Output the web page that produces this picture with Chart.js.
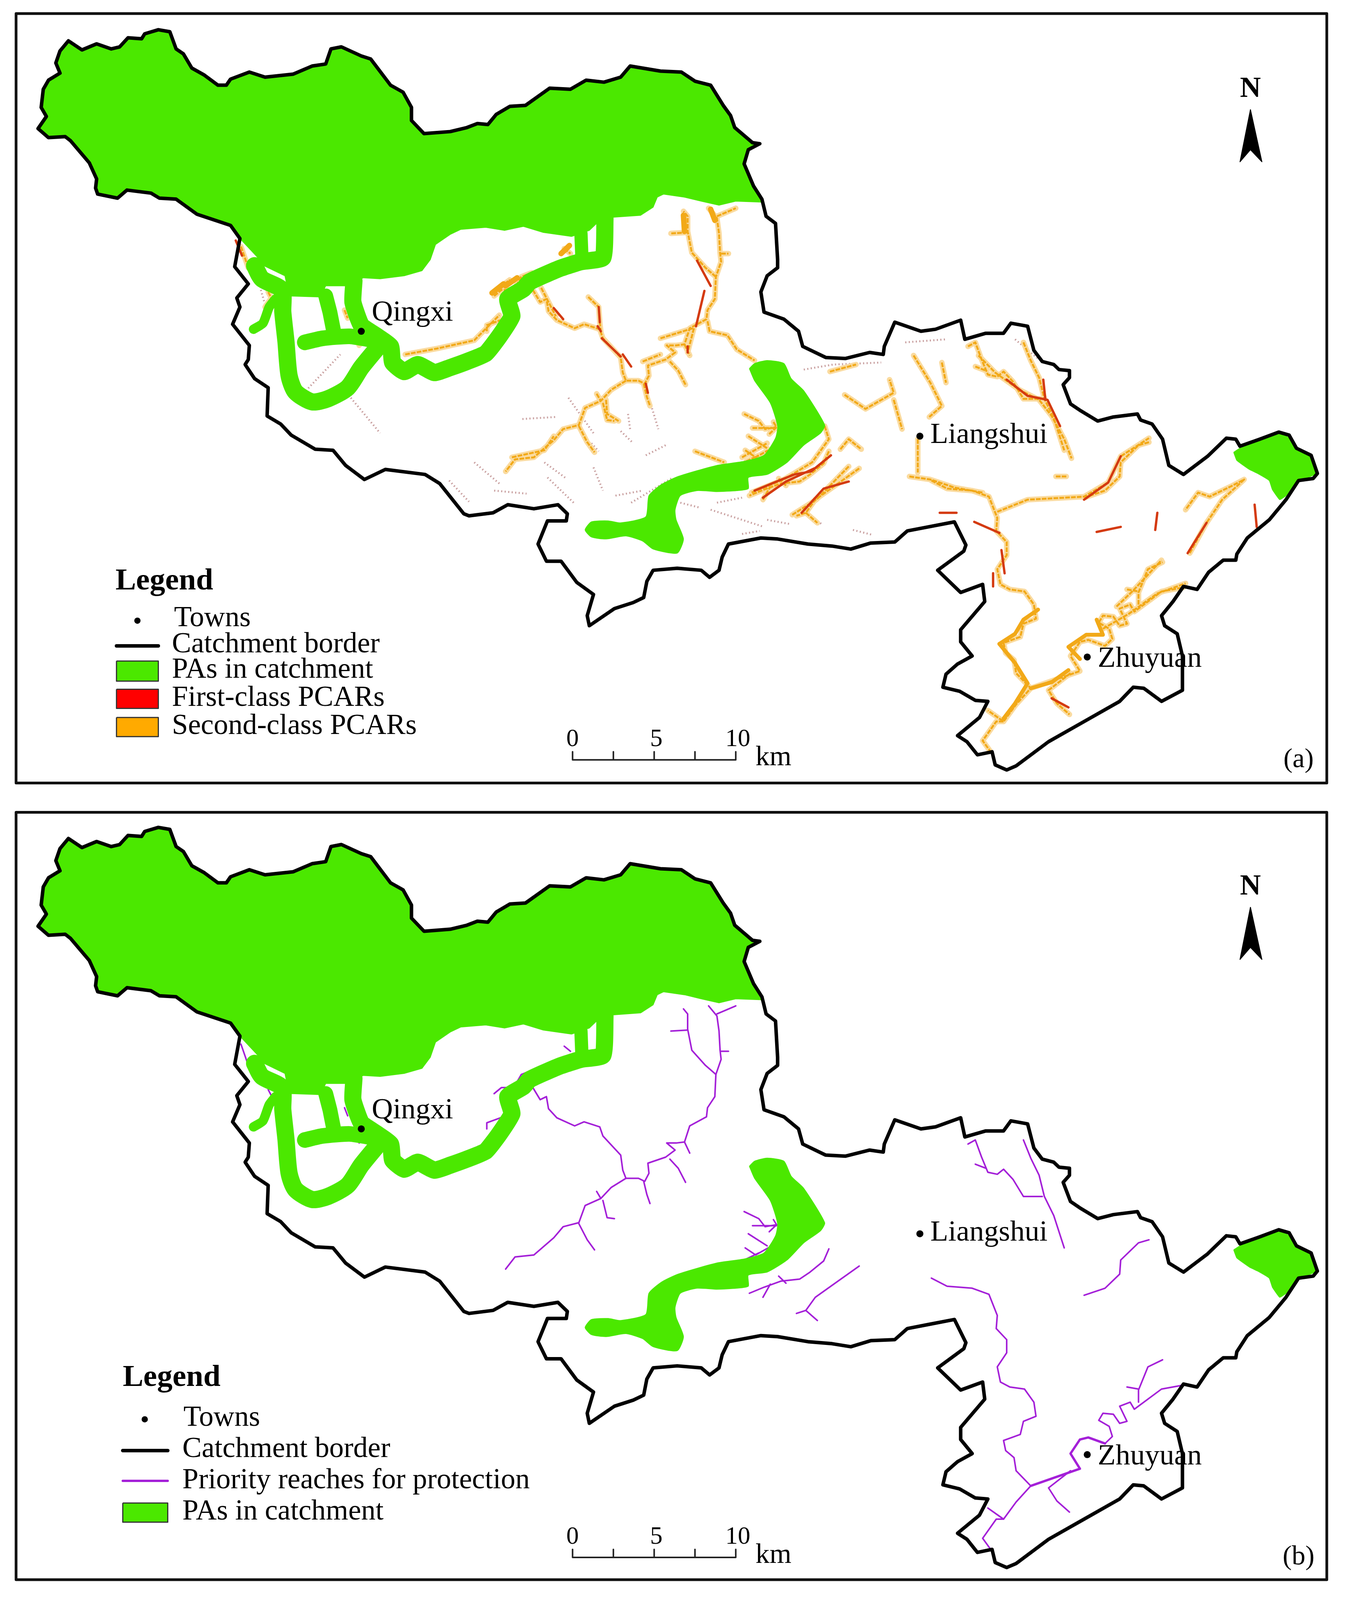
<!DOCTYPE html>
<html><head><meta charset="utf-8">
<script src="https://cdn.jsdelivr.net/npm/chart.js@4"></script>
<style>html,body{margin:0;padding:0;background:#fff;overflow:hidden}canvas{position:absolute;left:0}</style>
</head><body>
<canvas id="a"></canvas>
<canvas id="b"></canvas>
<script>
const borderNorth=[[33,124],[41,112],[36,103],[38,85],[43,76],[54,69],[50,59],[54,47],[62,37],[75,46],[89,40],[103,45],[111,43],[119,34],[132,35],[135,30],[148,26],[159,28],[165,45],[172,50],[180,64],[192,71],[205,81],[213,81],[217,75],[235,68],[250,73],[277,70],[295,62],[308,60],[313,45],[323,43],[342,52],[351,55],[370,81],[382,88],[390,103],[390,116],[402,129],[427,127],[443,123],[453,119],[463,120],[471,110],[484,102],[499,101],[522,84],[542,85],[557,76],[574,78],[590,73],[599,62],[628,67],[648,68],[661,77],[676,81],[688,101],[695,111],[699,123],[716,138],[723,139],[712,145],[708,159],[717,181],[725,194]];
const borderEast=[[729,211],[738,218],[740,254],[740,262],[730,270],[724,286],[727,306],[746,313],[760,325],[764,340],[786,351],[805,352],[828,346],[841,348],[842,340],[852,316],[877,325],[891,323],[915,314],[919,333],[939,327],[956,327],[963,317],[979,320],[985,344],[993,355],[1004,358],[1009,363],[1019,364],[1019,371],[1013,378],[1020,397],[1030,404],[1046,414],[1061,410],[1084,407],[1087,413],[1098,417],[1108,432],[1114,458],[1128,467],[1151,449],[1169,431],[1178,432],[1182,439],[1201,432],[1219,425],[1229,428],[1236,441],[1250,448],[1256,466],[1252,471],[1238,473],[1226,492],[1210,512],[1189,530],[1179,546],[1178,552],[1166,552],[1152,564],[1141,581],[1128,578],[1118,593],[1107,607],[1110,617],[1122,625],[1127,647],[1127,681],[1107,692],[1090,679],[1080,678],[1067,692],[1033,712],[999,732],[968,756],[959,760],[948,755],[945,742],[931,745],[921,732],[912,726],[933,708],[941,692],[929,691],[914,682],[898,678],[901,665],[912,655],[926,647],[915,633],[915,621],[938,593],[936,576],[915,584],[893,562],[918,543],[920,537],[909,514],[884,519],[864,523],[852,534],[829,535],[810,541],[792,538],[769,536],[740,531],[724,530],[693,536],[687,549],[684,562],[675,569],[667,562],[644,560],[621,562],[615,573],[612,589],[602,594],[584,600],[560,617],[558,607],[564,586],[548,574],[533,553],[519,553],[511,536],[520,513],[538,513],[539,506],[530,497],[507,501],[482,497],[468,505],[445,508],[440,506],[417,476],[403,467],[365,462],[345,472],[327,458],[315,443],[298,442],[275,428],[265,417],[252,409],[253,381],[240,372],[231,358],[234,353],[235,339],[219,318],[226,301],[223,292],[234,278],[221,261]];
const borderWest=[[226,233],[217,220],[185,209],[165,194],[149,193],[141,188],[118,185],[109,193],[90,189],[88,183],[89,174],[82,158],[64,136],[59,132],[43,133],[33,124]];
const paMainInner=[[725,197],[700,196],[684,200],[667,196],[651,192],[631,189],[625,192],[621,202],[609,210],[582,212],[568,217],[560,225],[543,231],[516,227],[497,221],[479,225],[461,222],[437,224],[427,229],[413,239],[408,254],[400,265],[383,270],[360,273],[344,272],[327,280],[308,280],[303,291],[273,290],[269,270],[249,260],[245,254]];
const paMiddle=[[713,362],[718,357],[730,354],[746,357],[753,372],[765,384],[785,418],[781,426],[765,438],[749,455],[730,467],[712,470],[712,481],[701,483],[682,484],[663,483],[647,488],[642,502],[643,512],[650,531],[644,545],[621,541],[611,533],[595,528],[576,531],[562,529],[556,522],[562,514],[578,513],[590,515],[614,509],[617,488],[629,477],[645,469],[682,458],[708,454],[727,448],[738,431],[740,419],[733,396],[718,374],[713,362]];
const paEast=[[1176,445],[1182,441],[1201,434],[1220,426],[1229,431],[1238,442],[1250,449],[1255,466],[1236,475],[1226,488],[1220,492],[1213,482],[1210,473],[1199,466],[1191,462],[1179,453],[1176,445]];
const paStripA=[[240,260],[247,273],[266,284],[267,306],[270,335],[273,369],[279,385],[295,395],[310,392],[329,381],[342,361],[357,342]];
const paStripA2=[[239,323],[248,317],[254,301],[260,293]];
const paStripB=[[308,290],[312,306],[316,327]];
const paStripB2=[[288,336],[305,332],[331,330],[355,334]];
const paStripC=[[335,275],[334,296],[342,319],[357,330],[370,340],[372,356],[383,365],[396,358],[412,366],[427,361],[443,355],[461,347],[474,330],[486,310],[482,293],[497,283],[503,276],[531,263],[552,256],[573,252],[575,213]];
const paStripD=[[552,228],[553,254]];

const reachesMainWest=[[506,284],[513,296],[519,293],[521,305],[529,314],[546,322],[555,318],[570,323],[573,332],[590,351],[592,366],[595,374],[607,374],[613,377],[617,369],[616,359],[633,353],[642,346],[634,339],[643,339],[651,338],[656,322],[672,313],[673,304],[680,293],[681,271],[686,256],[685,247],[684,228],[682,213],[674,203]];
const reachesMainSouthWest=[[595,374],[581,383],[571,394],[556,401],[550,418],[535,422],[526,433],[507,450],[489,452],[480,464]];
const reachesEastValley=[[922,340],[929,336],[935,353],[941,368],[950,370],[956,365],[965,375],[975,392],[993,392]];
const reachesEastRidge=[[975,336],[982,354],[990,371],[995,392],[1004,411],[1014,443]];
const reachesEastShort=[[1095,435],[1085,438],[1068,455],[1067,469],[1053,483],[1033,490]];
const reachesSouthMain=[[887,473],[902,481],[926,483],[942,489],[950,510],[949,523],[959,534],[959,547],[950,561],[953,576],[962,581],[976,583],[985,596],[987,610],[975,615],[972,628],[956,634],[958,644],[966,651],[968,664],[982,679],[968,695],[956,712],[941,701]];
const reachesSouthEnd=[[956,712],[949,712],[936,731],[943,741]];
const reachesSouthEast=[[982,679],[1029,662],[1020,647],[1029,633],[1037,631],[1053,637],[1060,630],[1057,620],[1047,614],[1051,607],[1061,608],[1067,617],[1074,615],[1067,600],[1077,596],[1081,603],[1107,583],[1128,579]];
const reachesMinor=[
[[682,211],[700,203]],[[681,271],[671,262],[658,247],[654,226],[654,211],[650,206]],[[654,227],[638,228]],[[686,248],[693,248]],[[651,338],[656,349]],[[637,355],[645,364],[652,378]],[[612,377],[615,390],[618,399]],
[[536,243],[542,248]],[[534,256],[542,253]],[[490,280],[495,271],[505,267]],[[469,290],[476,284],[488,284]],[[462,325],[462,319],[475,314]],[[227,241],[234,262]],[[253,286],[256,292],[250,301]],[[326,304],[329,312]],[[339,332],[340,339]],
[[573,396],[577,413],[584,414]],[[550,419],[558,435],[565,445]],[[567,387],[571,394]],
[[708,407],[722,414],[728,422],[739,420]],[[716,421],[739,421]],[[736,415],[739,420]],[[732,427],[739,420]],[[712,429],[730,441]],[[709,443],[719,450],[731,443]],[[710,454],[722,448]],
[[789,444],[784,456],[771,467],[761,474],[743,476],[727,482],[713,488]],[[726,492],[733,479]],[[741,471],[748,478]],
[[818,461],[795,478],[776,492],[767,505],[758,508]],[[767,505],[778,515]],
[[929,360],[939,364]],[[1020,664],[999,681],[1007,694],[1019,705]],[[1085,596],[1085,584],[1094,561],[1108,554]],[[1074,581],[1085,583]]
];
const reachesAll=[reachesMainWest,reachesMainSouthWest,reachesEastValley,reachesEastRidge,reachesEastShort,reachesSouthMain,reachesSouthEnd,reachesSouthEast,...reachesMinor];

const pcarSecondExtra=[
[[559,291],[569,301],[570,316],[571,325]],[[514,282],[528,310]],[[628,332],[659,322]],[[660,322],[654,346]],[[611,355],[628,348]],
[[673,315],[675,325],[692,329],[701,343],[718,354]],[[576,393],[577,407],[588,414]],[[486,450],[517,443],[526,429]],[[661,444],[689,455]],[[706,450],[730,436]],
[[866,469],[886,472],[909,480],[936,485]],[[950,504],[979,492],[1033,489],[1056,475],[1068,449],[1095,431]],
[[1051,620],[1076,605],[1103,585],[1130,575]],[[1064,598],[1080,582],[1107,552]],
[[1134,545],[1150,515],[1165,492],[1186,472],[1173,479],[1153,489],[1142,485],[1130,502]],
[[932,349],[948,366],[971,383],[990,393],[1002,409],[1014,432],[1021,451]],
[[870,349],[886,376],[897,399],[885,410]],[[897,356],[901,376]],[[804,388],[824,402],[851,386],[847,373]],[[851,393],[859,422]],[[874,432],[874,465]],
[[785,419],[789,432],[773,455],[746,472],[715,485]],[[808,459],[777,492],[754,507]],[[800,442],[808,432],[820,442]],[[1006,469],[1016,469]],
[[384,348],[415,342],[450,334],[474,309]],[[470,285],[484,274]],[[790,365],[815,358]]
];
const pcarSecondThick=[
[[952,635],[967,654],[979,674],[967,694],[956,709]],[[989,601],[975,611],[967,625],[952,635]],[[1029,650],[1018,638],[1035,626],[1051,626],[1045,611]],[[982,679],[1002,673],[1018,661]]
];
const pcarFirst=[
[[718,483],[739,474],[756,467],[772,464],[791,448]],[[763,505],[784,481],[808,474]],[[726,490],[748,474],[775,461]],
[[569,301],[570,316]],[[568,320],[571,325]],[[654,340],[654,346]],[[614,377],[616,386]],
[[959,373],[979,389],[998,393],[1010,419]],[[994,373],[996,393]],[[1068,449],[1056,475],[1033,492]],[[1103,505],[1101,522]],[[1045,524],[1068,519]],
[[1150,515],[1132,545]],[[1196,497],[1198,519]],[[946,565],[946,578]],[[954,542],[957,565]],[[895,505],[911,505]],[[928,514],[952,525]],[[1002,689],[1018,698]],[[222,235],[228,250]],
[[526,302],[535,313]],[[592,348],[600,360]],[[663,255],[676,280]],[[670,285],[662,320]],[[572,332],[590,350]]
];
const pcarBlobs=[[[650,210],[651,226]],[[676,204],[680,215]],[[533,248],[541,240]],[[467,287],[478,278]],[[491,272],[480,280]]];
const pcarFaint=[
[[496,412],[528,410]],[[469,483],[500,486]],[[564,460],[573,483]],[[585,488],[611,483]],[[647,495],[666,500]],[[682,495],[706,490]],[[706,526],[723,523]],[[614,448],[633,438]],[[590,424],[602,436]],[[597,407],[599,422]],[[616,388],[626,422]],[[562,436],[569,444]],[[517,455],[538,471]],[[730,512],[751,516]],[[772,510],[782,516]],
[[426,473],[445,494]],[[450,455],[474,476]],[[332,391],[360,426]],[[246,284],[251,302]],[[289,384],[322,348]],[[540,391],[564,426]],[[676,502],[727,519]],[[812,522],[831,527]],[[862,336],[901,333]],[[967,333],[990,353]],[[765,363],[793,358],[839,356]],[[520,470],[545,495]],[[600,495],[640,470]]
];

const townNames=["Qingxi","Liangshui","Zhuyuan"];
const townPoints=[[342,325],[876,429],[1036,648]];
const townLabelPoints=[[352,307],[886,428],[1046,650]];
const panelBox=[[12,10],[1265,10],[1265,773],[12,773],[12,10]];
const panelBoxB=[[12,11],[1265,11],[1265,772],[12,772],[12,11]];
const northArrow=[[1192,105],[1203,157],[1192,145],[1182,157],[1192,105]];
const scaleLine=[[544,742],[544,750],[583,750],[583,742],[583,750],[622,750],[622,742],[622,750],[661,750],[661,742],[661,750],[700,750],[700,742]];
const scaleLabels=[["0",544,730],["5",624,730],["10",702,730]];
const scaleUnit=["km",736,748];

const legendA={title:["Legend",107,573],
  text:[["Towns",163,610],["Catchment border",161,636],["PAs in catchment",161,661],["First-class PCARs",161,689],["Second-class PCARs",161,717]],
  dot:[[128,612]],line:[[108,637],[148,637]],
  swatches:[[108,652,148,672,"#4be800"],[108,680,148,699,"#ff0000"],[108,708,148,727,"#ffaa00"]]};
const legendB={title:["Legend",114,572],
  text:[["Towns",172,612],["Catchment border",171,643],["Priority reaches for protection",171,674],["PAs in catchment",171,705]],
  dot:[[135,613]],line:[[114,644],[157,644]],purple:[[114,674],[157,674]],
  swatches:[[114,696,157,715,"#4be800"]]};

const GREEN="#4be800",PURPLE="#a420d8",ORANGE="#f2a918",RED="#d43a10";
const catchmentBorder=borderNorth.concat(borderEast,borderWest);
const pts=a=>a.map(p=>({x:p[0],y:p[1]}));
const poly=(a,c,t)=>({data:pts(a),showLine:true,pointRadius:0,borderColor:c,backgroundColor:c,borderWidth:2,fill:'shape',tension:t||0,borderJoinStyle:'round'});
const line=(a,c,w,dash,t)=>({data:pts(a),showLine:true,pointRadius:0,borderColor:c,borderWidth:w,fill:false,tension:t||0,borderJoinStyle:'round',borderCapStyle:dash?'butt':'round',borderDash:dash||[]});
const dots=(a,r)=>({data:pts(a),showLine:false,pointRadius:r,pointBackgroundColor:"#000",pointBorderWidth:0});
const rect=s=>[[s[0],s[1]],[s[2],s[1]],[s[2],s[3]],[s[0],s[3]],[s[0],s[1]]];
const SERIF='"Liberation Serif","DejaVu Serif",serif';

function textPlugin(legend,panelLabel){return {id:'txt',afterDatasetsDraw(c){
  const g=c.ctx,X=c.scales.x,Y=c.scales.y;
  const put=(s,x,y,font,align)=>{g.font=font;g.textAlign=align||'left';g.textBaseline='middle';g.fillStyle='#000';g.fillText(s,X.getPixelForValue(x),Y.getPixelForValue(y));};
  g.save();
  put(legend.title[0],legend.title[1],legend.title[2],'bold 79px '+SERIF);
  legend.text.forEach(t=>put(t[0],t[1],t[2],'74px '+SERIF));
  townNames.forEach((n,i)=>put(n,townLabelPoints[i][0],townLabelPoints[i][1],'75px '+SERIF));
  scaleLabels.forEach(t=>put(t[0],t[1],t[2],'64px '+SERIF,'center'));
  put(scaleUnit[0],scaleUnit[1],scaleUnit[2],'72px '+SERIF,'center');
  put("N",1192,85,'bold 74px '+SERIF,'center');
  put(panelLabel,1238,750,'70px '+SERIF,'center');
  g.restore();
}};}

const greenShapes=()=>[
  poly(borderNorth.concat(paMainInner,borderWest),GREEN),
  poly(paMiddle,GREEN,0.2),poly(paEast,GREEN,0.1),
  line(paStripA,GREEN,44,null,0.25),line(paStripA2,GREEN,24,null,0.2),line(paStripB,GREEN,38),line(paStripB2,GREEN,40,null,0.2),
  line(paStripC,GREEN,44,null,0.15),line(paStripD,GREEN,34)
];
function tail(legend,box){
  const out=[line(catchmentBorder,"#000",9),line(box,"#111",7),line(scaleLine,"#222",4),poly(northArrow,"#000"),
    dots(townPoints,9),dots(legend.dot,8),line(legend.line,"#000",9)];
  legend.swatches.forEach(s=>{const d=poly(rect(s),s[4]);d.borderColor="#333";d.borderWidth=3;out.push(d);});
  return out;
}
function make(id,top,height,ymax,sets,plugin){
  const el=document.getElementById(id);
  el.width=3447;el.height=height;el.style.top=top+"px";
  return new Chart(el,{type:'scatter',data:{datasets:sets.slice().reverse()},plugins:[plugin],
    options:{responsive:false,maintainAspectRatio:false,devicePixelRatio:1,animation:false,events:[],
      layout:{padding:0},plugins:{legend:{display:false},tooltip:{enabled:false}},
      scales:{x:{type:'linear',display:false,min:0,max:1280},y:{type:'linear',display:false,min:0,max:ymax,reverse:true}}}});
}
const pageH=window.innerHeight||4235;
const topH=Math.round(pageH*784/1572.7);
const tracksA=reachesAll.concat(pcarSecondExtra);
const setsA=[
  ...pcarFaint.map(r=>line(r,"#c9a0a0",5,[3,6])),
  ...tracksA.map(r=>line(r,"#fadba0",14)),
  ...tracksA.map(r=>line(r,ORANGE,5,[12,3])),
  ...pcarSecondThick.map(r=>line(r,ORANGE,10)),
  ...pcarFirst.map(r=>line(r,RED,6)),
  ...pcarBlobs.map(r=>line(r,ORANGE,14)),
  ...greenShapes(),...tail(legendA,panelBox)
];
make('a',0,topH,784,setsA,textPlugin(legendA,"(a)"));
const setsB=[
  ...reachesAll.map(r=>line(r,PURPLE,4)),
  line(reachesSouthEast.slice(0,6),PURPLE,6),
  ...greenShapes(),...tail(legendB,panelBoxB),line(legendB.purple,PURPLE,6)
];
make('b',topH,pageH-topH,788.7,setsB,textPlugin(legendB,"(b)"));
</script>
</body></html>
